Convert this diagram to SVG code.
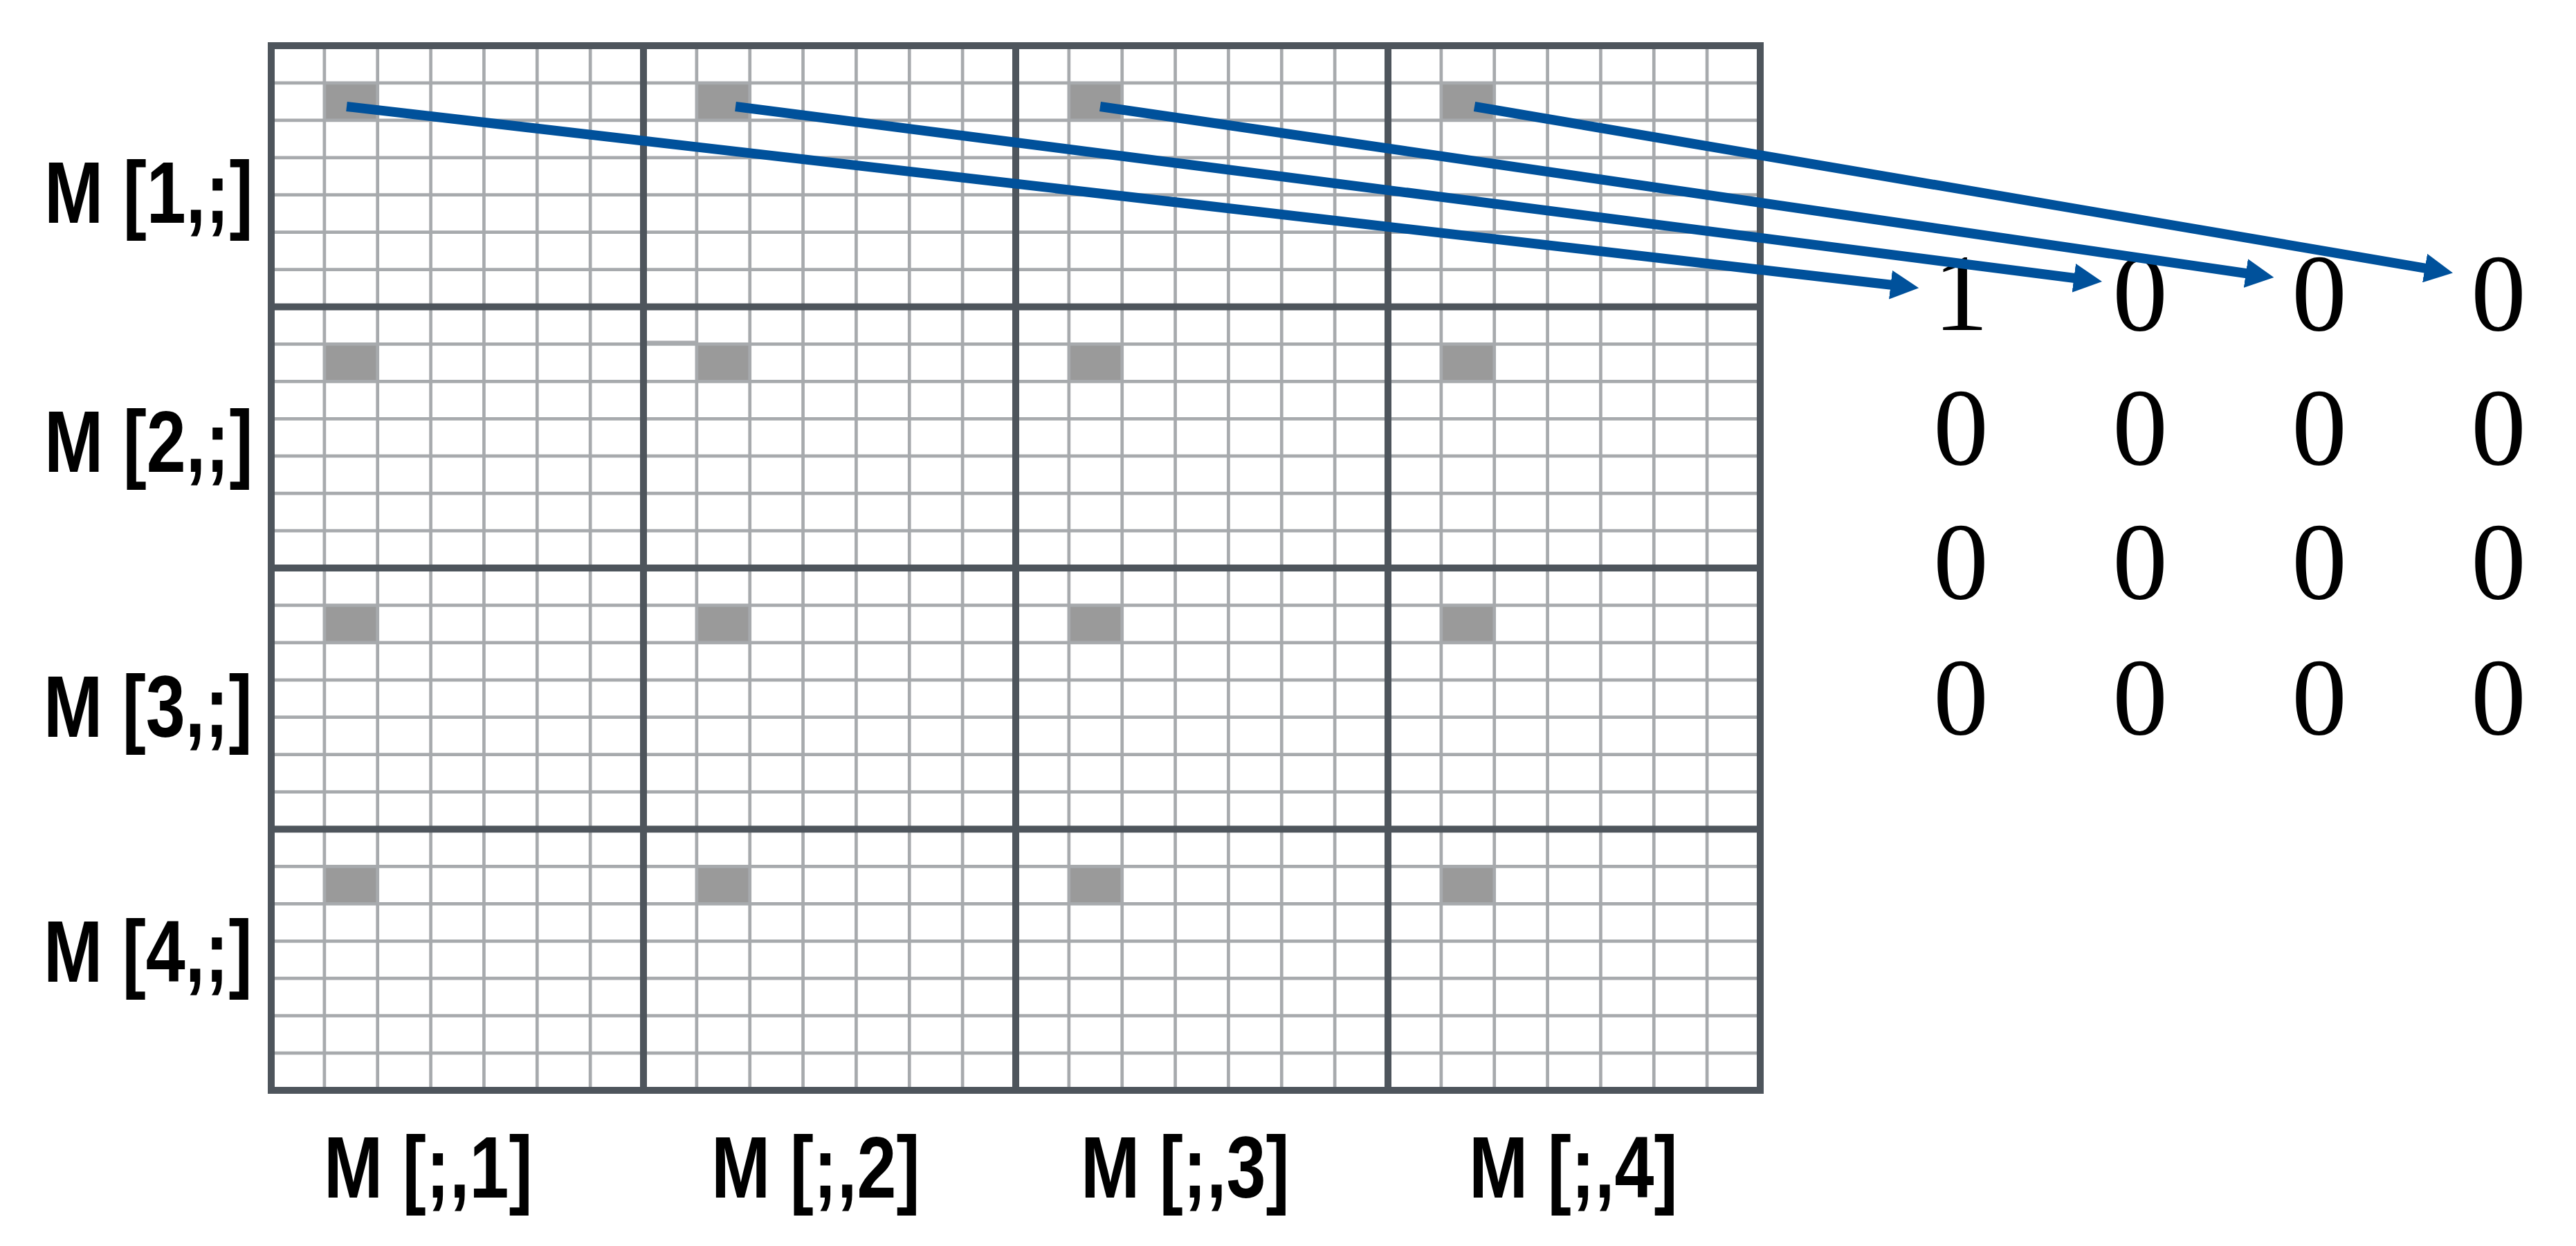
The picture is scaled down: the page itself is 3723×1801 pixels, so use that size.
<svg xmlns="http://www.w3.org/2000/svg" width="3723" height="1801" viewBox="0 0 3723 1801">
<defs>
<style>
.thin{stroke:#A7AAAD;stroke-width:4.7;fill:none}
.thick{stroke:#4E555C;stroke-width:10;fill:none}
.cell{fill:#9A9A9A}
.lbl{font-family:"Liberation Sans",Arial,sans-serif;font-weight:bold;font-size:126px;fill:#000}
.num{font-family:"Liberation Serif","Times New Roman",serif;font-size:159px;fill:#000;text-anchor:middle}
.arrow{stroke:#00519B;stroke-width:14;fill:none;stroke-linecap:butt;marker-end:url(#ah)}
</style>
<marker id="ah" markerUnits="userSpaceOnUse" viewBox="0 0 41 42" markerWidth="41" markerHeight="42" refX="3" refY="21" orient="auto"><path d="M0,0 L41,21 L0,42 Z" fill="#00519B"/></marker>
<g id="blk">
<rect class="cell" x="76.86" y="53.93" width="76.86" height="53.93"/>
<path class="thin" d="M76.86,0V377.5M153.71,0V377.5M230.57,0V377.5M307.43,0V377.5M384.29,0V377.5M461.14,0V377.5M0,53.93H538M0,107.86H538M0,161.79H538M0,215.71H538M0,269.64H538M0,323.57H538"/>
</g>
</defs>
<rect width="3723" height="1801" fill="#ffffff"/>
<g id="blocks">
<g id="b11"><use href="#blk" x="392" y="66"/></g>
<g id="b12"><use href="#blk" x="930" y="66"/></g>
<g id="b13"><use href="#blk" x="1468" y="66"/></g>
<g id="b14"><use href="#blk" x="2006" y="66"/></g>
<g id="b21"><use href="#blk" x="392" y="443.5"/></g>
<g id="b22"><use href="#blk" x="930" y="443.5"/><rect x="934" y="492.5" width="73" height="6.5" fill="#A7AAAD"/></g>
<g id="b23"><use href="#blk" x="1468" y="443.5"/></g>
<g id="b24"><use href="#blk" x="2006" y="443.5"/></g>
<g id="b31"><use href="#blk" x="392" y="821"/></g>
<g id="b32"><use href="#blk" x="930" y="821"/></g>
<g id="b33"><use href="#blk" x="1468" y="821"/></g>
<g id="b34"><use href="#blk" x="2006" y="821"/></g>
<g id="b41"><use href="#blk" x="392" y="1198.5"/></g>
<g id="b42"><use href="#blk" x="930" y="1198.5"/></g>
<g id="b43"><use href="#blk" x="1468" y="1198.5"/></g>
<g id="b44"><use href="#blk" x="2006" y="1198.5"/></g>
</g>
<g id="frame">
<rect class="thick" x="392" y="66" width="2152" height="1510"/>
<path class="thick" d="M930,66V1576M1468,66V1576M2006,66V1576M392,443.5H2544M392,821H2544M392,1198.5H2544"/>
</g>
<g id="row-labels">
<text class="lbl" x="64" y="322" textLength="301.5" lengthAdjust="spacingAndGlyphs">M [1,;]</text>
<text class="lbl" x="64" y="682" textLength="301.5" lengthAdjust="spacingAndGlyphs">M [2,;]</text>
<text class="lbl" x="63" y="1065" textLength="301.5" lengthAdjust="spacingAndGlyphs">M [3,;]</text>
<text class="lbl" x="63" y="1419" textLength="301.5" lengthAdjust="spacingAndGlyphs">M [4,;]</text>
</g>
<g id="col-labels">
<text class="lbl" x="468" y="1731" textLength="301.5" lengthAdjust="spacingAndGlyphs">M [;,1]</text>
<text class="lbl" x="1028" y="1731" textLength="301.5" lengthAdjust="spacingAndGlyphs">M [;,2]</text>
<text class="lbl" x="1562" y="1731" textLength="301.5" lengthAdjust="spacingAndGlyphs">M [;,3]</text>
<text class="lbl" x="2123" y="1731" textLength="301.5" lengthAdjust="spacingAndGlyphs">M [;,4]</text>
</g>
<g id="matrix">
<text class="num" x="2834" y="477">1</text><text class="num" x="3093" y="477">0</text><text class="num" x="3352" y="477">0</text><text class="num" x="3611" y="477">0</text>
<text class="num" x="2834" y="671">0</text><text class="num" x="3093" y="671">0</text><text class="num" x="3352" y="671">0</text><text class="num" x="3611" y="671">0</text>
<text class="num" x="2834" y="865">0</text><text class="num" x="3093" y="865">0</text><text class="num" x="3352" y="865">0</text><text class="num" x="3611" y="865">0</text>
<text class="num" x="2834" y="1061">0</text><text class="num" x="3093" y="1061">0</text><text class="num" x="3352" y="1061">0</text><text class="num" x="3611" y="1061">0</text>
</g>
<g id="connectors">
<line class="arrow" x1="501" y1="154" x2="2735.45" y2="411.94"/>
<line class="arrow" x1="1063" y1="154" x2="3000.31" y2="402.27"/>
<line class="arrow" x1="1590" y1="154" x2="3248.8" y2="395.53"/>
<line class="arrow" x1="2131" y1="154" x2="3507.54" y2="388.03"/>
</g>
</svg>
